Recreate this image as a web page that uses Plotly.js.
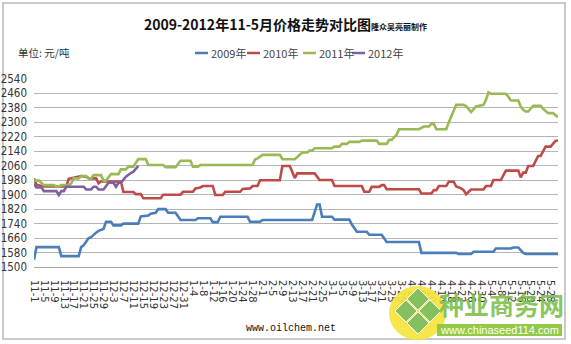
<!DOCTYPE html>
<html>
<head>
<meta charset="utf-8">
<script src="https://cdn.plot.ly/plotly-3.0.1.min.js"></script>
<style>
html,body{margin:0;padding:0;background:#fff;}
#chart{width:571px;height:344px;}
</style>
</head>
<body>
<div id="chart"></div>
<script>
// ---- Data (x = day offset from Nov 1; values in 元/吨) ----
const tickLabels = ["11-1","11-5","11-9","11-13","11-17","11-21","11-25","11-29","12-3","12-7","12-11","12-15","12-19","12-23","12-27","12-31","1-4","1-8","1-12","1-16","1-20","1-24","1-28","2-1","2-5","2-9","2-13","2-17","2-21","2-25","3-1","3-5","3-9","3-13","3-17","3-21","3-25","3-29","4-2","4-6","4-10","4-14","4-18","4-22","4-26","4-30","5-4","5-8","5-12","5-16","5-20","5-24","5-28"];
const tickDays = [0,4,8,12,16,20,24,28,32,36,40,44,48,52,56,60,64,68,72,76,80,84,88,92,96,100,104,108,112,116,120,124,128,132,136,140,144,148,152,156,160,164,168,172,176,180,184,188,192,196,200,204,208];

const seriesNames = ["2009年","2010年","2011年","2012年"];
const seriesColors = ["#4a7ebb","#be4b48","#98b954","#7d60a0"];

const x2009 = [0,1,10,11,18,19,20,21,22,23,24,25,26,28,29,31,32,35,36,42,43,46,47,49,50,53,54,57,59,65,66,71,72,74,75,86,87,91,92,112,114,115,116,120,121,127,128,129,130,134,135,140,141,142,155,156,170,171,176,177,185,186,192,193,195,196,197,198,211];
const y2009 = [1540,1610,1610,1560,1560,1610,1620,1640,1660,1665,1680,1690,1700,1710,1750,1750,1730,1730,1740,1740,1780,1785,1795,1800,1820,1820,1800,1800,1760,1760,1770,1770,1748,1748,1778,1778,1750,1750,1760,1760,1846,1846,1778,1778,1762,1762,1735,1715,1695,1695,1678,1678,1660,1638,1638,1578,1578,1572,1572,1584,1584,1602,1602,1608,1608,1590,1578,1572,1572];

const x2010 = [0,1,4,13,14,17,19,21,22,25,26,27,35,36,40,41,43,44,51,52,59,60,64,65,67,68,72,73,76,77,83,84,87,88,90,91,99,100,103,105,106,113,115,120,121,132,133,135,136,139,140,141,142,155,156,160,161,162,163,166,167,169,170,172,173,174,176,181,182,184,185,188,190,195,196,197,198,199,201,203,204,206,208,210,211];
const y2010 = [1990,1955,1945,1945,1988,1996,2003,2000,1990,1990,1963,1973,1973,1915,1915,1903,1903,1880,1880,1900,1900,1916,1916,1935,1940,1948,1948,1898,1898,1916,1916,1932,1935,1948,1948,1980,1980,2059,2059,1992,2018,2018,1981,1981,1948,1948,1916,1916,1943,1943,1953,1953,1930,1930,1907,1907,1925,1925,1948,1948,1972,1972,1945,1935,1925,1903,1929,1929,1948,1948,1981,1981,2033,2033,1996,2022,2022,2059,2059,2114,2114,2166,2166,2197,2200];

const x2011 = [0,2,4,8,9,10,11,14,15,16,18,19,21,22,23,24,27,28,29,31,34,35,37,38,40,41,42,45,46,52,53,57,58,59,63,64,66,67,88,89,90,91,92,99,100,105,106,108,110,111,112,113,120,121,123,124,126,127,131,132,138,139,142,143,144,146,147,155,157,159,160,161,162,166,167,168,170,173,174,176,177,178,181,182,183,184,190,191,192,195,196,197,198,199,201,204,205,206,207,209,211];
const y2011 = [1978,1978,1953,1953,1945,1945,1953,1953,1963,1990,1990,2003,2003,1990,1990,2008,2008,1978,1978,2014,2014,2040,2040,2055,2055,2073,2097,2097,2064,2064,2052,2052,2070,2088,2088,2055,2055,2064,2064,2095,2101,2112,2120,2120,2096,2096,2110,2133,2133,2144,2144,2157,2157,2166,2166,2181,2181,2192,2192,2199,2199,2181,2181,2203,2203,2231,2262,2262,2277,2277,2292,2292,2262,2262,2300,2330,2397,2397,2390,2357,2370,2388,2397,2425,2466,2458,2458,2443,2421,2421,2388,2370,2360,2360,2392,2392,2375,2360,2351,2351,2329];

const x2012 = [0,1,3,4,9,10,11,12,13,20,21,23,24,25,26,28,30,32,33,34,35,37,39,40,42];
const y2012 = [1960,1940,1940,1920,1920,1898,1920,1920,1944,1944,1929,1929,1944,1944,1929,1929,1966,1966,1944,1966,1966,2000,2020,2027,2059];

const xs = [x2009,x2010,x2011,x2012];
const ys = [y2009,y2010,y2011,y2012];

// ---- Layout helpers (pixel -> paper) ----
const L = 34, R = 13, T = 79, B = 77, W = 571, H = 344;
const PW = W - L - R, PH = H - T - B;
const px = p => (p - L) / PW;
const py = p => (H - B - p) / PH;

const traces = xs.map((x, i) => ({
  x: x, y: ys[i], type: 'scatter', mode: 'lines', name: seriesNames[i],
  line: {color: seriesColors[i], width: 2.6}, hoverinfo: 'x+y', showlegend: false
}));

const narrow = "Liberation Sans Narrow, DejaVu Sans Condensed, Liberation Sans, Noto Sans CJK SC, sans-serif";
const cjk = "Liberation Sans Narrow, Noto Sans CJK SC, sans-serif";

const shapes = [
  {type:'rect', xref:'paper', yref:'paper', x0:px(3), x1:px(565), y0:py(3), y1:py(339),
   line:{color:'#b8b8b8', width:1.5}, fillcolor:'rgba(0,0,0,0)', layer:'below'}
];
const annotations = [
  {xref:'paper', yref:'paper', x:px(16), y:py(52), xanchor:'left', yanchor:'middle', showarrow:false,
   text:'单位: 元/吨', font:{family:'Noto Sans CJK SC, sans-serif', size:10.5, color:'#333'}},
  {xref:'paper', yref:'paper', x:px(291), y:py(328), xanchor:'center', yanchor:'middle', showarrow:false,
   text:'www.oilchem.net', font:{family:'Liberation Mono, DejaVu Sans Mono, monospace', size:10, color:'#111'}}
];

// custom legend
const legendStarts = [195, 247, 303, 352];
seriesNames.forEach((n, i) => {
  const x0 = legendStarts[i];
  shapes.push({type:'line', xref:'paper', yref:'paper', x0:px(x0), x1:px(x0+13), y0:py(53), y1:py(53),
    line:{color:seriesColors[i], width:2.5}});
  annotations.push({xref:'paper', yref:'paper', x:px(x0+14), y:py(53), xanchor:'left', yanchor:'middle',
    showarrow:false, text:n, font:{family:cjk, size:11, color:'#444'}});
});

// watermark logo (decoration)
shapes.push({type:'circle', xref:'paper', yref:'paper', x0:px(389), x1:px(446), y0:py(286), y1:py(340),
  fillcolor:'rgba(245,228,60,0.92)', line:{width:0}, layer:'above'});
const dc = [[418,299],[406,311],[430,311],[418,323]];
dc.forEach(c => {
  const h = 11;
  const path = 'M' + px(c[0]) + ',' + py(c[1]-h) + ' L' + px(c[0]+h) + ',' + py(c[1]) +
               ' L' + px(c[0]) + ',' + py(c[1]+h) + ' L' + px(c[0]-h) + ',' + py(c[1]) + ' Z';
  shapes.push({type:'path', xref:'paper', yref:'paper', path:path, fillcolor:'rgba(125,190,95,0.95)',
    line:{color:'rgba(255,255,255,0.9)', width:1}, layer:'above'});
});
shapes.push({type:'rect', xref:'paper', yref:'paper', x0:px(437), x1:px(562), y0:py(324), y1:py(336),
  fillcolor:'rgba(140,198,63,0.95)', line:{width:0}, layer:'above'});
annotations.push({xref:'paper', yref:'paper', x:px(501), y:py(304), xanchor:'center', yanchor:'middle',
  showarrow:false, text:'<b>种业商务网</b>', font:{family:'Noto Sans CJK SC, sans-serif', size:25, color:'rgba(122,190,70,0.9)'}});
annotations.push({xref:'paper', yref:'paper', x:px(499), y:py(330), xanchor:'center', yanchor:'middle',
  showarrow:false, text:'www.chinaseed114.com', font:{family:'Liberation Sans, Arial, sans-serif', size:11, color:'#ffffff'}});

const layout = {
  width: W, height: H,
  margin: {l:L, r:R, t:T, b:B, pad:0},
  paper_bgcolor:'#ffffff', plot_bgcolor:'#ffffff',
  title: {
    text: '<b>2009-2012年11-5月价格走势对比图<span style="font-size:8px">隆众吴亮丽制作</span></b>',
    x: 0.5, xref:'container', xanchor:'center',
    y: 1 - 25/H, yref:'container', yanchor:'middle',
    font: {family:'Noto Sans CJK SC, sans-serif', size:14, color:'#111'}
  },
  xaxis: {
    range:[0,211], tickmode:'array', tickvals:tickDays, ticktext:tickLabels, tickangle:90,
    showgrid:false, zeroline:false, showline:true, linecolor:'#a8a8a8', linewidth:1,
    ticks:'', ticklabelstandoff:10,
    tickfont:{family:'DejaVu Sans, sans-serif', size:10, color:'#333'}, fixedrange:true
  },
  yaxis: {
    range:[1500,2540], tick0:1500, dtick:80, showgrid:true, gridcolor:'#b4b4b4', gridwidth:1,
    zeroline:false, showline:false, ticks:'', ticklabelstandoff:6,
    tickfont:{family:narrow, size:11.5, color:'#333'}, fixedrange:true
  },
  shapes: shapes,
  annotations: annotations,
  showlegend:false
};

Plotly.newPlot('chart', traces, layout, {displayModeBar:false, staticPlot:true});
</script>
</body>
</html>
